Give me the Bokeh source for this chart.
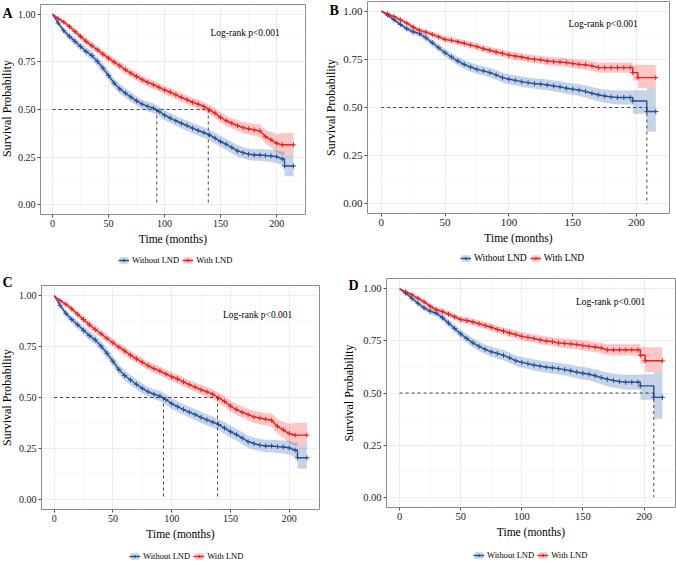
import math

from bokeh.plotting import figure
from bokeh.layouts import row, column
from bokeh.models import (Range1d, FixedTicker, NumeralTickFormatter, Legend,
                          LegendItem, Label, ColumnDataSource)
from bokeh.core.properties import value
from bokeh.embed import file_html
from bokeh.resources import INLINE

FONT = "Liberation Serif"
BLUE = "#21519A"
RED = "#F01E1E"

X_TICKS = [0, 50, 100, 150, 200]
Y_TICKS = [0.0, 0.25, 0.5, 0.75, 1.0]
SERIES_NAMES = ["Without LND", "With LND"]
NOTE = "Log-rank p<0.001"
X_TITLE = "Time (months)"
Y_TITLE = "Survival Probability"

# ---- Cohort 1 (panels A and C) ----
T_AC_BLUE = list(range(0, 210, 5)) + [207, 207, 215]
S_AC_BLUE = [1.000, 0.953, 0.913, 0.883, 0.857, 0.830, 0.804, 0.783, 0.752, 0.717,
             0.678, 0.638, 0.608, 0.586, 0.565, 0.545, 0.528, 0.516, 0.507, 0.490,
             0.470, 0.455, 0.441, 0.428, 0.416, 0.402, 0.390, 0.379, 0.367, 0.350,
             0.332, 0.318, 0.301, 0.283, 0.274, 0.266, 0.262, 0.262, 0.259, 0.257,
             0.253, 0.241, 0.241, 0.204, 0.204]
LO_AC_BLUE = [1.000, 0.941, 0.897, 0.865, 0.837, 0.809, 0.782, 0.760, 0.728, 0.693,
              0.653, 0.613, 0.583, 0.561, 0.540, 0.520, 0.503, 0.491, 0.481, 0.464,
              0.444, 0.429, 0.415, 0.401, 0.389, 0.375, 0.362, 0.351, 0.339, 0.321,
              0.303, 0.289, 0.271, 0.253, 0.244, 0.236, 0.231, 0.231, 0.228, 0.225,
              0.220, 0.205, 0.205, 0.150, 0.150]
HI_AC_BLUE = [1.000, 0.965, 0.929, 0.901, 0.877, 0.851, 0.826, 0.806, 0.776, 0.741,
              0.703, 0.663, 0.633, 0.611, 0.590, 0.570, 0.553, 0.541, 0.533, 0.516,
              0.496, 0.481, 0.467, 0.455, 0.443, 0.429, 0.418, 0.407, 0.395, 0.379,
              0.361, 0.347, 0.331, 0.313, 0.304, 0.296, 0.293, 0.293, 0.290, 0.289,
              0.286, 0.277, 0.277, 0.262, 0.262]

T_AC_RED = list(range(0, 210, 5)) + [215]
S_AC_RED = [1.000, 0.976, 0.958, 0.935, 0.909, 0.883, 0.857, 0.834, 0.813, 0.790,
            0.769, 0.748, 0.729, 0.708, 0.690, 0.673, 0.656, 0.642, 0.630, 0.616,
            0.602, 0.591, 0.577, 0.563, 0.551, 0.538, 0.528, 0.516, 0.498, 0.481,
            0.458, 0.441, 0.428, 0.416, 0.405, 0.399, 0.393, 0.388, 0.358, 0.341,
            0.323, 0.315, 0.315]
LO_AC_RED = [1.000, 0.968, 0.946, 0.921, 0.893, 0.866, 0.839, 0.815, 0.794, 0.770,
             0.749, 0.728, 0.708, 0.687, 0.669, 0.652, 0.635, 0.620, 0.608, 0.594,
             0.580, 0.568, 0.554, 0.540, 0.527, 0.514, 0.503, 0.491, 0.472, 0.455,
             0.431, 0.413, 0.400, 0.387, 0.375, 0.369, 0.362, 0.355, 0.322, 0.301,
             0.275, 0.262, 0.262]
HI_AC_RED = [1.000, 0.984, 0.970, 0.949, 0.925, 0.900, 0.875, 0.853, 0.832, 0.810,
             0.789, 0.768, 0.750, 0.729, 0.711, 0.694, 0.677, 0.664, 0.652, 0.638,
             0.624, 0.614, 0.600, 0.586, 0.575, 0.562, 0.553, 0.541, 0.524, 0.507,
             0.485, 0.469, 0.456, 0.445, 0.435, 0.429, 0.424, 0.421, 0.394, 0.381,
             0.371, 0.375, 0.375]
MEDIANS_AC = [93, 139]

# ---- Cohort 2 (panels B and D) ----
T_BD_BLUE = list(range(0, 200, 5)) + [197, 197, 208, 208, 215]
S_BD_BLUE = [1.000, 0.979, 0.955, 0.931, 0.909, 0.893, 0.883, 0.862, 0.836, 0.810,
             0.784, 0.762, 0.741, 0.724, 0.710, 0.698, 0.690, 0.681, 0.669, 0.655,
             0.647, 0.641, 0.634, 0.629, 0.624, 0.621, 0.617, 0.612, 0.607, 0.600,
             0.595, 0.590, 0.583, 0.574, 0.566, 0.560, 0.555, 0.552, 0.552, 0.552,
             0.552, 0.534, 0.534, 0.479, 0.479]
LO_BD_BLUE = [1.000, 0.972, 0.945, 0.919, 0.895, 0.878, 0.867, 0.845, 0.818, 0.791,
              0.764, 0.741, 0.719, 0.701, 0.687, 0.674, 0.666, 0.656, 0.644, 0.630,
              0.621, 0.615, 0.607, 0.602, 0.597, 0.593, 0.589, 0.584, 0.578, 0.571,
              0.565, 0.560, 0.552, 0.542, 0.533, 0.526, 0.520, 0.516, 0.516, 0.516,
              0.516, 0.468, 0.468, 0.376, 0.376]
HI_BD_BLUE = [1.000, 0.986, 0.965, 0.943, 0.923, 0.908, 0.899, 0.879, 0.854, 0.829,
              0.804, 0.783, 0.763, 0.747, 0.733, 0.722, 0.714, 0.706, 0.694, 0.680,
              0.673, 0.667, 0.661, 0.656, 0.651, 0.649, 0.645, 0.640, 0.636, 0.629,
              0.625, 0.620, 0.614, 0.606, 0.599, 0.594, 0.590, 0.588, 0.588, 0.588,
              0.588, 0.590, 0.590, 0.600, 0.600]

T_BD_RED = list(range(0, 200, 5)) + [197, 197, 201, 201, 215]
S_BD_RED = [1.000, 0.986, 0.972, 0.955, 0.938, 0.917, 0.900, 0.891, 0.879, 0.866,
            0.853, 0.848, 0.841, 0.833, 0.824, 0.816, 0.805, 0.797, 0.788, 0.781,
            0.772, 0.767, 0.762, 0.755, 0.750, 0.747, 0.741, 0.738, 0.736, 0.733,
            0.728, 0.724, 0.721, 0.716, 0.707, 0.707, 0.707, 0.707, 0.707, 0.707,
            0.707, 0.681, 0.681, 0.655, 0.655]
LO_BD_RED = [1.000, 0.980, 0.964, 0.945, 0.927, 0.905, 0.887, 0.877, 0.865, 0.851,
             0.838, 0.832, 0.825, 0.816, 0.807, 0.798, 0.787, 0.779, 0.769, 0.762,
             0.752, 0.747, 0.742, 0.734, 0.729, 0.726, 0.719, 0.716, 0.713, 0.710,
             0.704, 0.700, 0.696, 0.691, 0.681, 0.680, 0.680, 0.680, 0.680, 0.680,
             0.680, 0.640, 0.640, 0.600, 0.600]
HI_BD_RED = [1.000, 0.992, 0.980, 0.965, 0.949, 0.929, 0.913, 0.905, 0.893, 0.881,
             0.868, 0.864, 0.857, 0.850, 0.841, 0.834, 0.823, 0.815, 0.807, 0.800,
             0.792, 0.787, 0.782, 0.776, 0.771, 0.768, 0.763, 0.760, 0.759, 0.756,
             0.752, 0.748, 0.746, 0.741, 0.733, 0.734, 0.734, 0.734, 0.734, 0.734,
             0.734, 0.722, 0.722, 0.720, 0.720]
MEDIANS_BD = [208]

COHORT_AC = [(T_AC_BLUE, S_AC_BLUE, LO_AC_BLUE, HI_AC_BLUE),
             (T_AC_RED, S_AC_RED, LO_AC_RED, HI_AC_RED)]
COHORT_BD = [(T_BD_BLUE, S_BD_BLUE, LO_BD_BLUE, HI_BD_BLUE),
             (T_BD_RED, S_BD_RED, LO_BD_RED, HI_BD_RED)]
COLORS = [BLUE, RED]


def bare_figure(width, height):
    """A figure whose frame fills the whole canvas, in pixel units."""
    q = figure(width=width, height=height,
               x_range=Range1d(0, width), y_range=Range1d(0, height),
               x_axis_type=None, y_axis_type=None,
               output_backend="svg", toolbar_location=None, min_border=0,
               background_fill_color="white", border_fill_color="white")
    q.outline_line_color = None
    for g in q.grid:
        g.visible = False
    return q


def side_strip(letter, width, height, letter_xy, title_xy):
    """Panel tag and rotated y-axis title, left of the plot."""
    q = bare_figure(width, height)
    q.text(x=[letter_xy[0]], y=[letter_xy[1]], text=[letter],
           text_font=value(FONT), text_font_size="14px", text_font_style="bold",
           text_align="left", text_baseline="top", text_color="#000000")
    q.text(x=[title_xy[0]], y=[title_xy[1]], text=[Y_TITLE], angle=math.pi / 2,
           text_font=value(FONT), text_font_size="12px",
           text_align="center", text_baseline="middle", text_color="#000000")
    return q


def legend_strip(width, height, loc, font_size):
    """Key for the two groups: band swatch, line and censor cross."""
    q = bare_figure(width, height)
    rends = []
    off = -50  # keep the key's own glyph rows outside the visible strip
    for c in COLORS:
        band = q.varea(x=[off, off + 1], y1=[0, 0], y2=[1, 1], fill_color=c, fill_alpha=0.25)
        ln = q.line(x=[off, off + 1], y=[0, 0], line_color=c, line_width=1.4)
        mk = q.scatter(x=[off], y=[0], marker="cross", size=6, line_color=c, line_width=1.2)
        rends.append([band, ln, mk])
    items = [LegendItem(label=SERIES_NAMES[k], renderers=rends[k]) for k in range(2)]
    q.add_layout(Legend(items=items, orientation="horizontal", location=loc,
                        label_text_font=FONT, label_text_font_size=font_size,
                        label_text_color="#000000", glyph_width=11, glyph_height=8,
                        label_height=10, label_width=10, label_standoff=3, spacing=3,
                        padding=0, margin=0, border_line_color=None,
                        background_fill_alpha=0))
    return q


def km_panel(cohort, medians, width, height, borders, note_xy, tick_size):
    left, right, top, bottom = borders
    p = figure(width=width, height=height,
               x_range=Range1d(-10.75, 225.75), y_range=Range1d(-0.05, 1.05),
               output_backend="svg", toolbar_location=None,
               min_border_left=left, min_border_right=right,
               min_border_top=top, min_border_bottom=bottom,
               background_fill_color="white", border_fill_color="white")
    p.outline_line_color = "#8c8c8c"
    p.outline_line_width = 1

    p.xaxis.ticker = FixedTicker(ticks=X_TICKS, minor_ticks=[25, 75, 125, 175])
    p.yaxis.ticker = FixedTicker(ticks=Y_TICKS, minor_ticks=[0.125, 0.375, 0.625, 0.875])
    p.yaxis.formatter = NumeralTickFormatter(format="0.00")
    p.xaxis.axis_label = X_TITLE
    for ax in (p.xaxis, p.yaxis):
        ax.axis_line_color = None
        ax.major_tick_line_color = "#555555"
        ax.major_tick_in = 0
        ax.major_tick_out = 3
        ax.minor_tick_line_color = None
        ax.major_label_text_font = FONT
        ax.major_label_text_font_size = tick_size
        ax.major_label_text_color = "#1a1a1a"
        ax.major_label_standoff = 1
        ax.axis_label_text_font = FONT
        ax.axis_label_text_font_size = "11.5px"
        ax.axis_label_text_font_style = "normal"
        ax.axis_label_text_color = "#000000"
    p.xaxis.axis_label_standoff = 3

    for g in (p.xgrid, p.ygrid):
        g.grid_line_color = "#EBEBEB"
        g.grid_line_width = 0.9
        g.minor_grid_line_color = "#F3F3F3"
        g.minor_grid_line_width = 0.6

    for (t, s, lo, hi), c in zip(cohort, COLORS):
        src = ColumnDataSource(dict(t=t, lo=lo, hi=hi))
        p.varea(x="t", y1="lo", y2="hi", source=src, fill_color=c, fill_alpha=0.25)
    for (t, s, lo, hi), c in zip(cohort, COLORS):
        p.line(x=t, y=s, line_color=c, line_width=1.4)
        # censoring ticks at the listed times (skip the upper corner of each drop)
        keep = [i for i in range(len(t))
                if t[i] > 0 and not (i + 1 < len(t) and t[i + 1] == t[i])]
        p.scatter(x=[t[i] for i in keep], y=[s[i] for i in keep], marker="cross",
                  size=5, line_color=c, line_width=1)

    # median survival guides
    p.segment(x0=[0], y0=[0.5], x1=[max(medians)], y1=[0.5],
              line_color="#333333", line_dash="3 3", line_width=0.9)
    p.segment(x0=medians, y0=[0.5] * len(medians), x1=medians, y1=[0.0] * len(medians),
              line_color="#333333", line_dash="3 3", line_width=0.9)

    p.add_layout(Label(x=note_xy[0], y=note_xy[1], text=NOTE, text_font=FONT,
                       text_font_size="9.5px", text_baseline="middle",
                       text_align="left", text_color="#000000"))
    return p


# Panel A
stripA = side_strip("A", 14, 270, (2, 265), (6.5, 162))
figA = km_panel(COHORT_AC, MEDIANS_AC, 306, 250, (24, 15, 4, 36), (141, 0.903), "10px")
legA = legend_strip(306, 20, (78, 5), "8.5px")
panelA = row(stripA, column(figA, legA))

# Panel C
stripC = side_strip("C", 14, 292, (2, 288), (6.5, 165))
figC = km_panel(COHORT_AC, MEDIANS_AC, 306, 275, (27, 1, 15, 36), (143.7, 0.906), "10px")
legC = legend_strip(306, 17, (88, 1), "8.5px")
panelC = row(stripC, column(figC, legC))

# Panel B
stripB = side_strip("B", 20, 270, (9, 268), (10, 163))
figB = km_panel(COHORT_BD, MEDIANS_BD, 336, 250, (27, 7, 1, 37), (146.7, 0.931), "11px")
legB = legend_strip(336, 20, (93, 7), "9.5px")
panelB = row(stripB, column(figB, legB))

# Panel D
stripD = side_strip("D", 40, 292, (28, 285), (28.5, 169.5))
figD = km_panel(COHORT_BD, MEDIANS_BD, 316, 273, (25, 1, 8, 36), (144.3, 0.937), "10.5px")
legD = legend_strip(316, 19, (87, 2), "8.5px")
panelD = row(stripD, column(figD, legD))

layout = row(column(panelA, panelC), column(panelB, panelD))

open("out.html", "w").write(file_html(layout, INLINE))
